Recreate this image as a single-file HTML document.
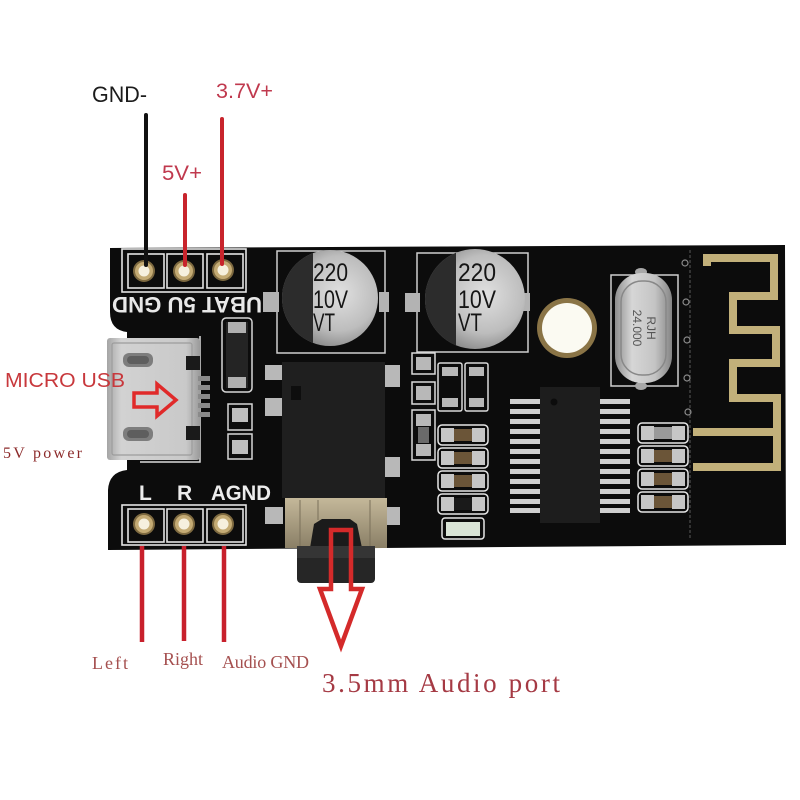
<!DOCTYPE html>
<html><head><meta charset="utf-8"><style>
html,body{margin:0;padding:0;background:#fff;}
svg{display:block;}
</style></head><body>
<svg width="800" height="800" viewBox="0 0 800 800" xmlns="http://www.w3.org/2000/svg">
<defs>
 <radialGradient id="capg" cx="0.6" cy="0.45" r="0.65">
  <stop offset="0" stop-color="#e0e0e0"/><stop offset="0.6" stop-color="#bdbdbd"/><stop offset="1" stop-color="#7c7c7c"/>
 </radialGradient>
 <clipPath id="c1"><circle cx="330" cy="298" r="48"/></clipPath>
 <clipPath id="c2"><circle cx="475" cy="299" r="50"/></clipPath>
 <linearGradient id="usbg" x1="0" x2="1">
  <stop offset="0" stop-color="#a5a5a5"/><stop offset="0.15" stop-color="#d2d2d2"/><stop offset="0.85" stop-color="#c9c9c9"/><stop offset="1" stop-color="#9a9a9a"/>
 </linearGradient>
 <linearGradient id="xtg" x1="0" x2="1">
  <stop offset="0" stop-color="#8e8e8e"/><stop offset="0.3" stop-color="#d6d6d6"/><stop offset="0.7" stop-color="#c4c4c4"/><stop offset="1" stop-color="#858585"/>
 </linearGradient>
 <linearGradient id="jmg" x1="0" x2="0" y1="0" y2="1">
  <stop offset="0" stop-color="#c4b89a"/><stop offset="1" stop-color="#8a7f66"/>
 </linearGradient>
</defs>
<rect width="800" height="800" fill="#fff"/>

<!-- top labels & wires -->
<text x="92" y="102" font-family="Liberation Sans, sans-serif" font-size="22" fill="#1c1c1c" textLength="55" lengthAdjust="spacingAndGlyphs">GND-</text>
<text x="216" y="98" font-family="Liberation Sans, sans-serif" font-size="21" fill="#c0394e" textLength="57" lengthAdjust="spacingAndGlyphs">3.7V+</text>
<text x="162" y="180" font-family="Liberation Sans, sans-serif" font-size="21" fill="#c0394e" textLength="40" lengthAdjust="spacingAndGlyphs">5V+</text>

<!-- board -->
<path d="M110,248 L785,245 L786,545 L108,550 L108,490 Q109,472 127,470 L127,332 Q110,330 110,312 Z" fill="#0c0c0c"/>

<!-- top header -->
<g stroke="#e4e4e4" stroke-width="1.6" fill="none">
 <rect x="122" y="249" width="124" height="43"/>
 <rect x="128" y="254" width="36" height="34"/>
 <rect x="167" y="254" width="36" height="34"/>
 <rect x="207" y="254" width="36" height="34"/>
</g>
<g>
 <circle cx="144" cy="271" r="11" fill="#7e6a40"/><circle cx="144" cy="271" r="9" fill="#c4ab74"/><circle cx="144" cy="271" r="5.5" fill="#f6f0de"/>
 <circle cx="184" cy="271" r="11" fill="#7e6a40"/><circle cx="184" cy="271" r="9" fill="#c4ab74"/><circle cx="184" cy="271" r="5.5" fill="#f6f0de"/>
 <circle cx="223" cy="270" r="11" fill="#7e6a40"/><circle cx="223" cy="270" r="9" fill="#c4ab74"/><circle cx="223" cy="270" r="5.5" fill="#f6f0de"/>
</g>
<line x1="146" y1="115" x2="146" y2="265" stroke="#111" stroke-width="4" stroke-linecap="round"/>
<line x1="185" y1="195" x2="185" y2="265" stroke="#c8242c" stroke-width="4" stroke-linecap="round"/>
<line x1="222" y1="119" x2="222" y2="264" stroke="#c8242c" stroke-width="4" stroke-linecap="round"/>
<text transform="rotate(180 187 305)" x="187" y="313" text-anchor="middle" font-family="Liberation Sans, sans-serif" font-weight="bold" font-size="22" fill="#e8e8e8" textLength="150" lengthAdjust="spacingAndGlyphs">UBAT 5U GND</text>

<!-- USB silkscreen -->
<path d="M200,336 L200,462 L140,462" stroke="#dcdcdc" stroke-width="1.5" fill="none"/>
<!-- USB connector -->
<rect x="107" y="338" width="93" height="122" rx="3" fill="url(#usbg)"/>
<rect x="112" y="343" width="80" height="112" rx="2" fill="none" stroke="#9c9c9c" stroke-width="1.2"/>
<rect x="123" y="353" width="30" height="14" rx="6" fill="#7d7d7d"/>
<rect x="127" y="356" width="22" height="8" rx="4" fill="#5e5e5e"/>
<rect x="123" y="427" width="30" height="14" rx="6" fill="#7d7d7d"/>
<rect x="127" y="430" width="22" height="8" rx="4" fill="#5e5e5e"/>
<rect x="186" y="356" width="14" height="14" fill="#1a1a1a"/>
<rect x="186" y="426" width="14" height="14" fill="#1a1a1a"/>
<g fill="#8a8a8a"><rect x="198" y="376" width="12" height="5"/><rect x="198" y="385" width="12" height="5"/><rect x="198" y="394" width="12" height="5"/><rect x="198" y="403" width="12" height="5"/><rect x="198" y="412" width="12" height="5"/></g>
<polygon points="134,393 157,393 157,384 176,400 157,416 157,407 134,407" fill="none" stroke="#e02a2a" stroke-width="3.5" stroke-linejoin="miter"/>

<!-- diode and small pads -->
<rect x="222" y="318" width="30" height="74" rx="4" fill="none" stroke="#d6d6d6" stroke-width="1.5"/>
<rect x="226" y="322" width="22" height="66" fill="#242424"/>
<rect x="228" y="322" width="18" height="11" fill="#b0b0b0"/>
<rect x="228" y="377" width="18" height="11" fill="#b0b0b0"/>
<rect x="228" y="404" width="24" height="26" fill="none" stroke="#d6d6d6" stroke-width="1.5"/>
<rect x="232" y="408" width="16" height="14" fill="#bdbdbd"/>
<rect x="228" y="434" width="24" height="25" fill="none" stroke="#d6d6d6" stroke-width="1.5"/>
<rect x="232" y="440" width="16" height="14" fill="#bdbdbd"/>

<!-- cap 1 -->
<rect x="277" y="251" width="108" height="102" fill="none" stroke="#cfcfcf" stroke-width="1.5"/>
<rect x="263" y="292" width="16" height="20" fill="#b3b3b3"/>
<rect x="379" y="292" width="10" height="20" fill="#b3b3b3"/>
<circle cx="330" cy="298" r="48" fill="url(#capg)"/>
<rect x="280" y="248" width="33" height="102" fill="#2c2c2c" clip-path="url(#c1)"/>
<g font-family="Liberation Sans, sans-serif" font-size="25" fill="#151515" lengthAdjust="spacingAndGlyphs">
 <text x="313" y="281" textLength="35" lengthAdjust="spacingAndGlyphs">220</text>
 <text x="313" y="308" textLength="35" lengthAdjust="spacingAndGlyphs">10V</text>
 <text x="313" y="331" textLength="22" lengthAdjust="spacingAndGlyphs">VT</text>
</g>

<!-- cap 2 -->
<rect x="417" y="253" width="111" height="99" fill="none" stroke="#cfcfcf" stroke-width="1.5"/>
<rect x="405" y="293" width="15" height="19" fill="#b3b3b3"/>
<rect x="521" y="293" width="9" height="18" fill="#b3b3b3"/>
<circle cx="475" cy="299" r="50" fill="url(#capg)"/>
<rect x="424" y="248" width="32" height="104" fill="#2c2c2c" clip-path="url(#c2)"/>
<g font-family="Liberation Sans, sans-serif" font-size="25" fill="#151515">
 <text x="458" y="281" textLength="38" lengthAdjust="spacingAndGlyphs">220</text>
 <text x="458" y="308" textLength="38" lengthAdjust="spacingAndGlyphs">10V</text>
 <text x="458" y="331" textLength="24" lengthAdjust="spacingAndGlyphs">VT</text>
</g>

<!-- audio jack -->
<g fill="#b8b8b8">
 <rect x="265" y="365" width="17" height="15"/><rect x="265" y="398" width="17" height="18"/><rect x="265" y="507" width="18" height="17"/>
 <rect x="385" y="365" width="15" height="22"/><rect x="385" y="457" width="15" height="20"/><rect x="385" y="507" width="15" height="18"/>
</g>
<rect x="282" y="362" width="103" height="136" fill="#1f1f1f"/>
<rect x="291" y="386" width="10" height="14" fill="#0e0e0e"/>
<rect x="285" y="498" width="102" height="50" fill="url(#jmg)"/>
<g stroke="#7a705a" stroke-width="1"><line x1="300" y1="500" x2="300" y2="546"/><line x1="318" y1="500" x2="318" y2="520"/><line x1="370" y1="500" x2="370" y2="546"/></g>
<path d="M310,548 L314,524 L322,519 L350,519 L357,524 L362,548 Z" fill="#1b1b1b"/>
<rect x="297" y="546" width="78" height="37" rx="4" fill="#262626"/>
<rect x="297" y="546" width="78" height="12" fill="#353535"/>

<!-- center column small parts -->
<g stroke="#dadada" stroke-width="1.5" fill="none">
 <rect x="412" y="353" width="23" height="21"/>
 <rect x="412" y="382" width="23" height="22"/>
 <rect x="412" y="410" width="23" height="50"/>
 <rect x="438" y="363" width="24" height="48" rx="2"/>
 <rect x="465" y="363" width="23" height="48" rx="2"/>
</g>
<g fill="#b8b8b8">
 <rect x="416" y="357" width="15" height="13"/><rect x="416" y="386" width="15" height="14"/>
 <rect x="416" y="414" width="15" height="12"/><rect x="416" y="444" width="15" height="12"/>
 <rect x="442" y="367" width="16" height="9"/><rect x="442" y="398" width="16" height="9"/>
 <rect x="469" y="367" width="15" height="9"/><rect x="469" y="398" width="15" height="9"/>
</g>
<rect x="418" y="427" width="11" height="16" fill="#6a6a6a"/>

<!-- left resistor array -->
<g>
 <g stroke="#e6e6e6" stroke-width="1.5" fill="none">
  <rect x="438" y="425" width="50" height="20" rx="4"/><rect x="438" y="448" width="50" height="20" rx="4"/>
  <rect x="438" y="471" width="50" height="20" rx="4"/><rect x="438" y="494" width="50" height="20" rx="4"/>
  <rect x="442" y="518" width="42" height="21" rx="3"/>
 </g>
 <g fill="#c6c6c6">
  <rect x="441" y="428" width="13" height="14"/><rect x="472" y="428" width="13" height="14"/>
  <rect x="441" y="451" width="13" height="14"/><rect x="472" y="451" width="13" height="14"/>
  <rect x="441" y="474" width="13" height="14"/><rect x="472" y="474" width="13" height="14"/>
  <rect x="441" y="497" width="13" height="14"/><rect x="472" y="497" width="13" height="14"/>
 </g>
 <g fill="#6b5538">
  <rect x="454" y="429" width="18" height="12"/><rect x="454" y="452" width="18" height="12"/><rect x="454" y="475" width="18" height="12"/>
 </g>
 <rect x="454" y="498" width="18" height="12" fill="#1a1a1a"/>
 <rect x="446" y="522" width="34" height="14" fill="#d9e4d6"/>
</g>

<!-- IC -->
<g fill="#cfcfcf">
 <rect x="510" y="399" width="30" height="5"/><rect x="510" y="409" width="30" height="5"/><rect x="510" y="419" width="30" height="5"/>
 <rect x="510" y="429" width="30" height="5"/><rect x="510" y="439" width="30" height="5"/><rect x="510" y="449" width="30" height="5"/>
 <rect x="510" y="459" width="30" height="5"/><rect x="510" y="469" width="30" height="5"/><rect x="510" y="479" width="30" height="5"/>
 <rect x="510" y="489" width="30" height="5"/><rect x="510" y="499" width="30" height="5"/><rect x="510" y="508" width="30" height="5"/>
 <rect x="600" y="399" width="30" height="5"/><rect x="600" y="409" width="30" height="5"/><rect x="600" y="419" width="30" height="5"/>
 <rect x="600" y="429" width="30" height="5"/><rect x="600" y="439" width="30" height="5"/><rect x="600" y="449" width="30" height="5"/>
 <rect x="600" y="459" width="30" height="5"/><rect x="600" y="469" width="30" height="5"/><rect x="600" y="479" width="30" height="5"/>
 <rect x="600" y="489" width="30" height="5"/><rect x="600" y="499" width="30" height="5"/><rect x="600" y="508" width="30" height="5"/>
</g>
<rect x="540" y="387" width="60" height="136" fill="#1d1d1d"/>
<circle cx="554" cy="402" r="3.5" fill="#0c0c0c"/>

<!-- right resistor array -->
<g stroke="#e6e6e6" stroke-width="1.5" fill="none">
 <rect x="638" y="423" width="50" height="20" rx="4"/><rect x="638" y="446" width="50" height="20" rx="4"/>
 <rect x="638" y="469" width="50" height="20" rx="4"/><rect x="638" y="492" width="50" height="20" rx="4"/>
</g>
<g fill="#c6c6c6">
 <rect x="641" y="426" width="13" height="14"/><rect x="672" y="426" width="13" height="14"/>
 <rect x="641" y="449" width="13" height="14"/><rect x="672" y="449" width="13" height="14"/>
 <rect x="641" y="472" width="13" height="14"/><rect x="672" y="472" width="13" height="14"/>
 <rect x="641" y="495" width="13" height="14"/><rect x="672" y="495" width="13" height="14"/>
</g>
<rect x="654" y="427" width="18" height="12" fill="#9a9a9a"/>
<g fill="#6b5538"><rect x="654" y="450" width="18" height="12"/><rect x="654" y="473" width="18" height="12"/><rect x="654" y="496" width="18" height="12"/></g>

<!-- white hole -->
<circle cx="567" cy="328" r="30" fill="#8a7446"/>
<circle cx="567" cy="328" r="25" fill="#fbfaf2"/>

<!-- crystal -->
<rect x="611" y="275" width="67" height="111" fill="none" stroke="#cfcfcf" stroke-width="1.5"/>
<ellipse cx="641" cy="272" rx="6" ry="4" fill="#a8a8a8"/>
<ellipse cx="641" cy="386" rx="6" ry="4" fill="#a8a8a8"/>
<rect x="615" y="273" width="57" height="110" rx="27" fill="url(#xtg)"/>
<rect x="621" y="281" width="45" height="94" rx="21" fill="none" stroke="#888" stroke-width="1.5"/>
<g transform="rotate(90 643 328)" font-family="Liberation Sans, sans-serif" font-size="12" fill="#555" text-anchor="middle">
 <text x="643" y="324">RJH</text>
 <text x="643" y="338">24.000</text>
</g>

<!-- divider line -->
<line x1="690" y1="250" x2="690" y2="540" stroke="#5a5a5a" stroke-width="1" stroke-dasharray="3 2"/>
<g fill="none" stroke="#8a8a8a" stroke-width="1.2">
 <circle cx="685" cy="263" r="3"/><circle cx="686" cy="302" r="3"/><circle cx="687" cy="340" r="3"/><circle cx="687" cy="378" r="3"/><circle cx="688" cy="412" r="3"/>
</g>

<!-- antenna -->
<g stroke="#c2b07a" stroke-width="8" fill="none" stroke-linejoin="miter">
 <path d="M707,266 L707,258 L774,258 L774,296 L733,296 L733,330 L776,330 L776,363 L733,363 L733,398 L777,398 L777,467 L693,467"/>
 <path d="M693,432 L775,432"/>
</g>

<!-- bottom header -->
<g stroke="#e4e4e4" stroke-width="1.6" fill="none">
 <rect x="122" y="505" width="124" height="40"/>
 <rect x="128" y="509" width="36" height="33"/>
 <rect x="167" y="509" width="36" height="33"/>
 <rect x="207" y="509" width="36" height="33"/>
</g>
<g>
 <circle cx="144" cy="524" r="11" fill="#7e6a40"/><circle cx="144" cy="524" r="9" fill="#c4ab74"/><circle cx="144" cy="524" r="5.5" fill="#f6f0de"/>
 <circle cx="184" cy="524" r="11" fill="#7e6a40"/><circle cx="184" cy="524" r="9" fill="#c4ab74"/><circle cx="184" cy="524" r="5.5" fill="#f6f0de"/>
 <circle cx="223" cy="524" r="11" fill="#7e6a40"/><circle cx="223" cy="524" r="9" fill="#c4ab74"/><circle cx="223" cy="524" r="5.5" fill="#f6f0de"/>
</g>
<g font-family="Liberation Sans, sans-serif" font-weight="bold" font-size="21" fill="#ececec">
 <text x="139" y="500">L</text>
 <text x="177" y="500">R</text>
 <text x="211" y="500" textLength="60" lengthAdjust="spacingAndGlyphs">AGND</text>
</g>
<g stroke="#c8202c" stroke-width="4.5">
 <line x1="142" y1="546" x2="142" y2="642"/>
 <line x1="184" y1="546" x2="184" y2="641"/>
 <line x1="224" y1="546" x2="224" y2="642"/>
</g>

<!-- jack arrow -->
<polygon points="331,530 351,530 351,589 362,589 341,646 320,589 331,589" fill="none" stroke="#d42a2a" stroke-width="4.5" stroke-linejoin="miter"/>

<!-- side labels -->
<text x="5" y="387" font-family="Liberation Sans, sans-serif" font-size="20" fill="#c8383c" textLength="120" lengthAdjust="spacingAndGlyphs">MICRO USB</text>
<text x="3" y="458" font-family="Liberation Serif, serif" font-size="16" fill="#8c2a2a" textLength="79" lengthAdjust="spacing">5V power</text>

<!-- bottom labels -->
<g font-family="Liberation Serif, serif" font-size="18" fill="#a5504f">
 <text x="92" y="669" textLength="36" lengthAdjust="spacing">Left</text>
 <text x="163" y="665" textLength="40" lengthAdjust="spacing">Right</text>
 <text x="222" y="668" textLength="87" lengthAdjust="spacing">Audio GND</text>
</g>
<text x="322" y="692" font-family="Liberation Serif, serif" font-size="27" fill="#a53a44" textLength="238" lengthAdjust="spacing">3.5mm Audio port</text>
</svg>
</body></html>
